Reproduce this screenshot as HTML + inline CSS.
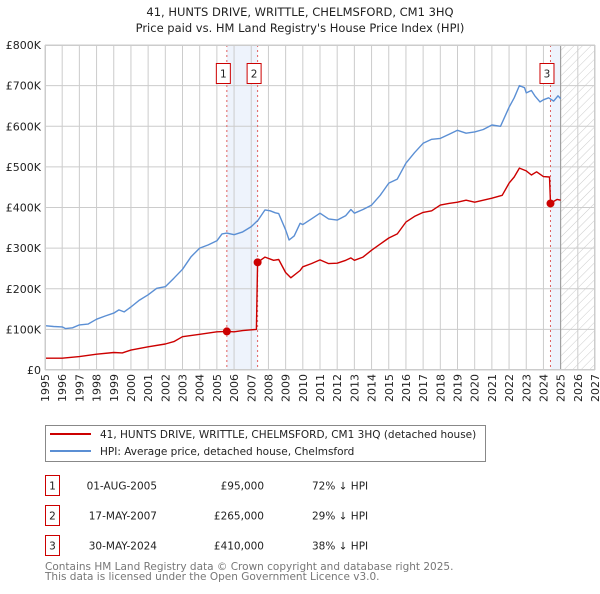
<!DOCTYPE html>
<html><head><meta charset="utf-8">
<style>
body{margin:0;background:#fff;font-family:"DejaVu Sans","Liberation Sans",sans-serif;}
svg text{font-family:"DejaVu Sans","Liberation Sans",sans-serif;}
</style></head>
<body>
<svg id="chart" width="600" height="590" viewBox="0 0 600 590">
<defs>
<pattern id="hatch" width="6" height="6" patternUnits="userSpaceOnUse" patternTransform="rotate(45)">
<line x1="0" y1="0" x2="0" y2="6" stroke="#ccc" stroke-width="1"/>
</pattern>
</defs>
<text x="300" y="16" text-anchor="middle" font-size="11.5" fill="#222">41, HUNTS DRIVE, WRITTLE, CHELMSFORD, CM1 3HQ</text>
<text x="300" y="32" text-anchor="middle" font-size="11.5" fill="#222">Price paid vs. HM Land Registry's House Price Index (HPI)</text>
<g id="plot"></g>
<rect x="45.5" y="425.5" width="440" height="36" fill="#fff" stroke="#888"/>
<line x1="50" y1="434" x2="91" y2="434" stroke="#cc0000" stroke-width="2"/>
<text x="100" y="438" font-size="10.5" fill="#222">41, HUNTS DRIVE, WRITTLE, CHELMSFORD, CM1 3HQ (detached house)</text>
<line x1="50" y1="451" x2="91" y2="451" stroke="#5b8fd4" stroke-width="2"/>
<text x="100" y="455" font-size="10.5" fill="#222">HPI: Average price, detached house, Chelmsford</text>
<g font-size="10.5" fill="#222">
<rect x="45.5" y="475.5" width="14" height="20" fill="none" stroke="#cc0000"/>
<text x="52.5" y="489.5" text-anchor="middle">1</text>
<text x="157" y="489.5" text-anchor="end">01-AUG-2005</text>
<text x="264" y="489.5" text-anchor="end">£95,000</text>
<text x="312" y="489.5">72% ↓ HPI</text>
<rect x="45.5" y="505.5" width="14" height="20" fill="none" stroke="#cc0000"/>
<text x="52.5" y="519.5" text-anchor="middle">2</text>
<text x="157" y="519.5" text-anchor="end">17-MAY-2007</text>
<text x="264" y="519.5" text-anchor="end">£265,000</text>
<text x="312" y="519.5">29% ↓ HPI</text>
<rect x="45.5" y="535.5" width="14" height="20" fill="none" stroke="#cc0000"/>
<text x="52.5" y="549.5" text-anchor="middle">3</text>
<text x="157" y="549.5" text-anchor="end">30-MAY-2024</text>
<text x="264" y="549.5" text-anchor="end">£410,000</text>
<text x="312" y="549.5">38% ↓ HPI</text>
</g>
<text x="45" y="570" font-size="10.5" fill="#777">Contains HM Land Registry data © Crown copyright and database right 2025.</text>
<text x="45" y="580" font-size="10.5" fill="#777">This data is licensed under the Open Government Licence v3.0.</text>
</svg>
<script>
const hpiYears=[1995,1995.5,1996,1996.2,1996.6,1997,1997.5,1998,1998.5,1999,1999.3,1999.6,2000,2000.5,2001,2001.5,2002,2002.5,2003,2003.5,2004,2004.5,2005,2005.3,2005.58,2006,2006.5,2007,2007.4,2007.8,2008.1,2008.4,2008.6,2009,2009.2,2009.5,2009.84,2010,2010.5,2011,2011.5,2012,2012.5,2012.8,2013,2013.5,2014,2014.5,2015,2015.5,2016,2016.5,2017,2017.5,2018,2018.5,2019,2019.5,2020,2020.5,2021,2021.5,2022,2022.3,2022.6,2022.9,2023,2023.3,2023.5,2023.8,2024,2024.3,2024.6,2024.85,2025];
const hpiValues=[109,107,106,102,104,111,113,125,133,140,148,143,155,172,185,201,205,226,248,279,300,308,318,335,337,333,340,353,369,394,392,387,385,345,320,330,361,358,372,386,372,369,380,395,386,395,406,430,460,470,509,535,558,568,570,580,590,583,586,592,603,600,647,670,700,695,682,688,675,660,665,670,662,675,668];
const redYears=[1995,1996,1997,1998,1999,1999.5,2000,2001,2002,2002.5,2003,2004,2005,2005.58,2006,2006.5,2007,2007.3,2007.37,2007.8,2008.3,2008.6,2009,2009.3,2009.84,2010,2010.5,2011,2011.5,2012,2012.5,2012.8,2013,2013.5,2014,2014.5,2015,2015.5,2016,2016.5,2017,2017.5,2018,2018.5,2019,2019.5,2020,2020.5,2021,2021.6,2022,2022.3,2022.6,2023,2023.3,2023.6,2024,2024.35,2024.41,2024.6,2024.8,2025];
const redValues=[29,29,33,39,43,42,49,57,64,70,82,88,94,95,94,97,99,100,265,278,270,272,240,227,245,254,262,271,262,263,270,276,270,278,295,310,325,335,364,378,388,392,406,410,413,418,413,418,423,430,460,475,497,490,480,488,476,475,410,415,420,418];
const sales=[{n:"1",y:2005.58,v:95},{n:"2",y:2007.37,v:265},{n:"3",y:2024.41,v:410}];
const yTicks=[0,100,200,300,400,500,600,700,800];
const yTickLabels=["£0","£100K","£200K","£300K","£400K","£500K","£600K","£700K","£800K"];
const xTicks=[1995,1996,1997,1998,1999,2000,2001,2002,2003,2004,2005,2006,2007,2008,2009,2010,2011,2012,2013,2014,2015,2016,2017,2018,2019,2020,2021,2022,2023,2024,2025,2026,2027];

const L=45,R=595,T=45,B=370,x0=1995,x1=2027,vmax=800,dataEnd=2025;
const X=y=>L+(y-x0)/(x1-x0)*(R-L);
const Y=v=>B-v/vmax*(B-T);
const NS="http://www.w3.org/2000/svg";
const g=document.getElementById('plot');
function mk(tag,attrs,parent){const e=document.createElementNS(NS,tag);for(const k in attrs)e.setAttribute(k,attrs[k]);(parent||g).appendChild(e);return e;}

let e;
e=mk('rect',{x:L,y:T,width:R-L,height:B-T,fill:'#fff'});


e=mk('rect',{x:X(sales[0].y),y:T,width:X(sales[1].y)-X(sales[0].y),height:B-T,fill:'#eef3fc'});


e=mk('rect',{x:X(sales[2].y),y:T,width:X(dataEnd)-X(sales[2].y),height:B-T,fill:'#eef3fc'});


e=mk('rect',{x:X(dataEnd),y:T,width:R-X(dataEnd),height:B-T,fill:'url(#hatch)'});


xTicks.forEach(t=>{
  e=mk('line',{x1:X(t),x2:X(t),y1:T,y2:B,stroke:'#ccc','stroke-width':1});
  
  
  e=mk('text',{x:0,y:0,transform:`translate(${X(t)+4},${B+4}) rotate(-90)`,'text-anchor':'end','font-size':11,fill:'#222'});
  e.textContent=t;
  
  
});
yTicks.forEach((t,i)=>{
  e=mk('line',{x1:L,x2:R,y1:Y(t),y2:Y(t),stroke:'#ccc','stroke-width':1});
  
  
  e=mk('text',{x:L-4,y:Y(t)+4,'text-anchor':'end','font-size':11,fill:'#222'});
  e.textContent=yTickLabels[i];
  
  
});
e=mk('line',{x1:X(dataEnd),x2:X(dataEnd),y1:T,y2:B,stroke:'#999','stroke-width':1});


sales.forEach(s=>{
  e=mk('line',{x1:X(s.y),x2:X(s.y),y1:T,y2:B,stroke:'#e06060','stroke-width':1,'stroke-dasharray':'2,3'});
  
  
});
const pts=(ys,vs)=>ys.map((y,i)=>X(y).toFixed(1)+','+Y(vs[i]).toFixed(1)).join(' ');
e=mk('polyline',{points:pts(hpiYears,hpiValues),fill:'none',stroke:'#5b8fd4','stroke-width':1.4,'stroke-linejoin':'round'});


e=mk('polyline',{points:pts(redYears,redValues),fill:'none',stroke:'#cc0000','stroke-width':1.4,'stroke-linejoin':'round'});


sales.forEach(s=>{
  e=mk('circle',{cx:X(s.y),cy:Y(s.v),r:4,fill:'#cc0000'});
  
  
  e=mk('rect',{x:X(s.y)-10.5,y:63.5,width:14,height:20,fill:'#fff',stroke:'#cc0000'});
  
  
  e=mk('text',{x:X(s.y)-3.5,y:77.5,'text-anchor':'middle','font-size':10.5,fill:'#222'});
  e.textContent=s.n;
  
  
});
e=mk('rect',{x:L+0.5,y:T+0.5,width:R-L-1,height:B-T-1,fill:'none',stroke:'#ccc'});


</script>
</body></html>
